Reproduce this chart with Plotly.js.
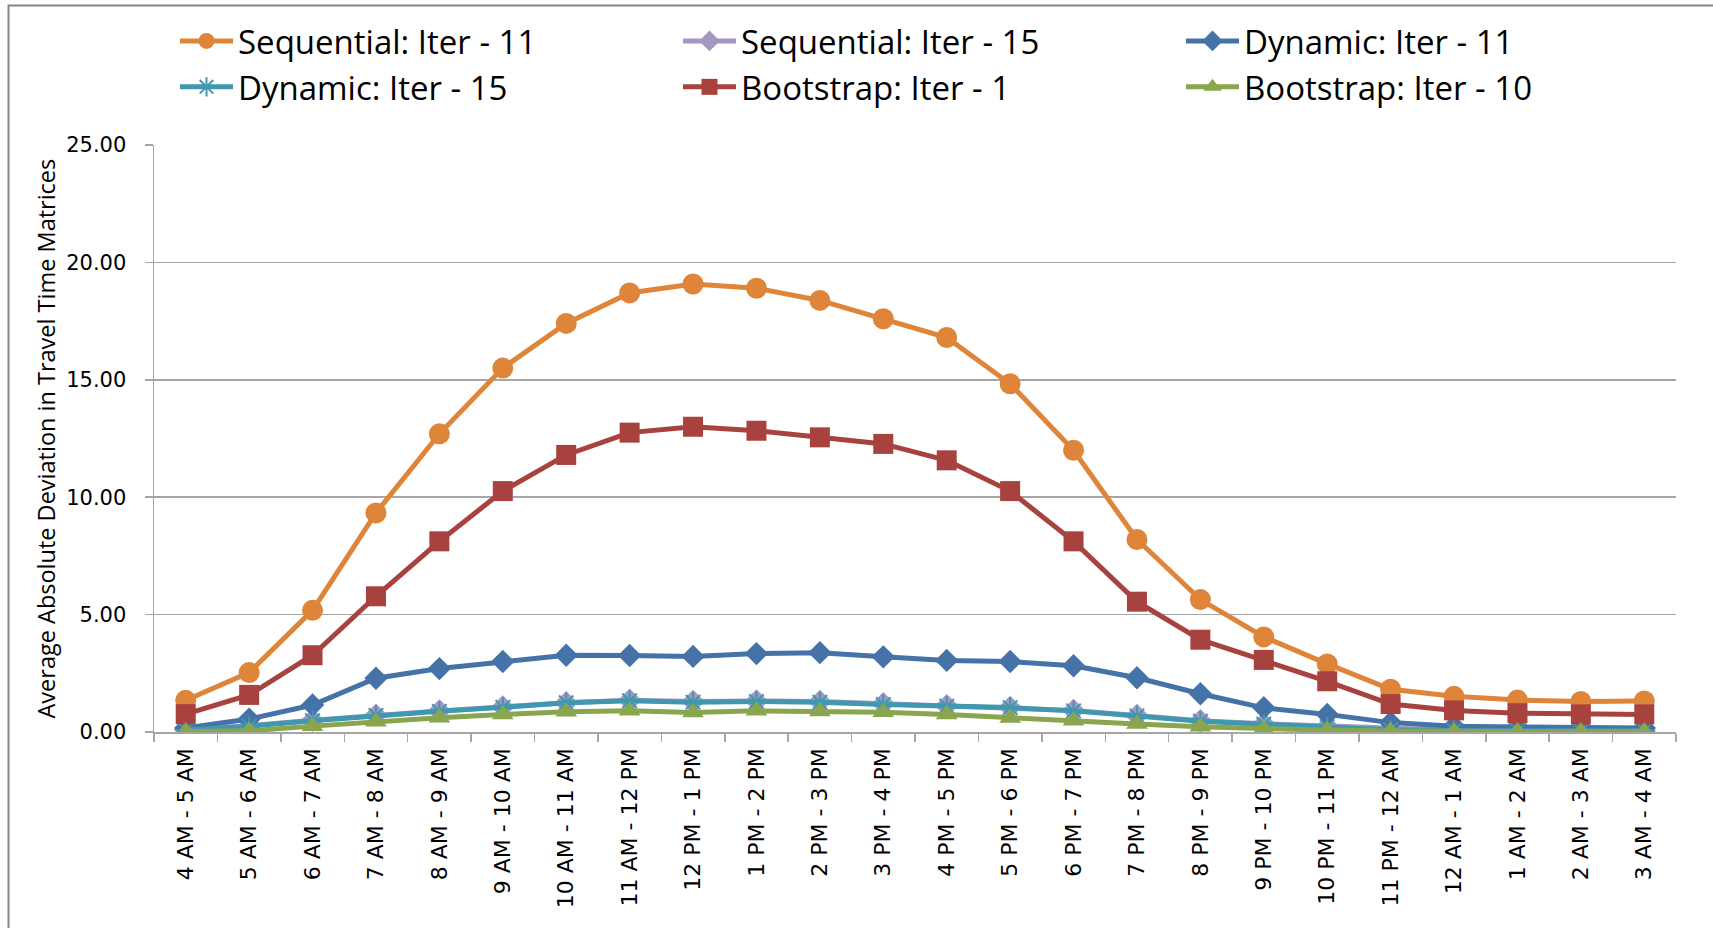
<!DOCTYPE html>
<html>
<head>
<meta charset="utf-8">
<script src="https://cdn.plot.ly/plotly-3.0.1.min.js"></script>
<style>
  html, body { margin: 0; padding: 0; background: #ffffff; }
  #chart { width: 1713px; height: 928px; }
</style>
</head>
<body>
<div id="chart"></div>
<script>
// Hourly periods of the day
const categories = [
  '4 AM - 5 AM', '5 AM - 6 AM', '6 AM - 7 AM', '7 AM - 8 AM', '8 AM - 9 AM',
  '9 AM - 10 AM', '10 AM - 11 AM', '11 AM - 12 PM', '12 PM - 1 PM', '1 PM - 2 PM',
  '2 PM - 3 PM', '3 PM - 4 PM', '4 PM - 5 PM', '5 PM - 6 PM', '6 PM - 7 PM',
  '7 PM - 8 PM', '8 PM - 9 PM', '9 PM - 10 PM', '10 PM - 11 PM', '11 PM - 12 AM',
  '12 AM - 1 AM', '1 AM - 2 AM', '2 AM - 3 AM', '3 AM - 4 AM'
];

// Average absolute deviation per period, one array per method / iteration
const sequentialIter11 = [1.35, 2.53, 5.18, 9.33, 12.70, 15.50, 17.40, 18.70, 19.08, 18.90, 18.38, 17.60,
                          16.80, 14.83, 12.00, 8.20, 5.64, 4.05, 2.90, 1.82, 1.52, 1.36, 1.30, 1.32];
const sequentialIter15 = [0.10, 0.27, 0.50, 0.72, 0.90, 1.07, 1.25, 1.35, 1.30, 1.32, 1.30, 1.20,
                          1.12, 1.05, 0.92, 0.70, 0.48, 0.35, 0.25, 0.12, 0.07, 0.06, 0.05, 0.05];
const dynamicIter11    = [0.17, 0.55, 1.15, 2.29, 2.70, 3.00, 3.27, 3.26, 3.22, 3.34, 3.38, 3.20,
                          3.05, 3.00, 2.82, 2.31, 1.63, 1.03, 0.75, 0.40, 0.24, 0.21, 0.20, 0.17];
const dynamicIter15    = [0.08, 0.25, 0.48, 0.70, 0.88, 1.05, 1.25, 1.33, 1.27, 1.30, 1.27, 1.17,
                          1.10, 1.04, 0.90, 0.68, 0.46, 0.33, 0.23, 0.10, 0.06, 0.05, 0.05, 0.05];
const bootstrapIter1   = [0.76, 1.58, 3.27, 5.78, 8.12, 10.26, 11.80, 12.75, 13.00, 12.83, 12.55, 12.27,
                          11.57, 10.26, 8.12, 5.55, 3.93, 3.07, 2.16, 1.19, 0.92, 0.80, 0.75, 0.75];
const bootstrapIter10  = [0.02, 0.05, 0.25, 0.44, 0.61, 0.75, 0.86, 0.91, 0.83, 0.90, 0.87, 0.84,
                          0.75, 0.60, 0.48, 0.34, 0.22, 0.14, 0.08, 0.04, 0.02, 0.02, 0.02, 0.02];

const seriesNames = [
  'Sequential: Iter - 11', 'Sequential: Iter - 15', 'Dynamic: Iter - 11',
  'Dynamic: Iter - 15', 'Bootstrap: Iter - 1', 'Bootstrap: Iter - 10'
];

function series(name, values, color, symbol, size, open) {
  return {
    type: 'scatter',
    mode: 'lines+markers',
    name: name,
    x: categories,
    y: values,
    line: { color: color, width: 5 },
    marker: open
      ? { symbol: symbol, size: size, color: color, line: { color: color, width: 2 } }
      : { symbol: symbol, size: size, color: color, line: { width: 0 } },
    hoverinfo: 'x+y+name'
  };
}

const traces = [
  series(seriesNames[0], sequentialIter11, '#DF8539', 'circle', 21, false),
  series(seriesNames[1], sequentialIter15, '#A596C4', 'diamond', 18, false),
  series(seriesNames[2], dynamicIter11, '#4572A7', 'diamond', 18, false),
  series(seriesNames[3], dynamicIter15, '#4098B0', 'asterisk-open', 17, true),
  series(seriesNames[4], bootstrapIter1, '#A8423F', 'square', 20, false),
  series(seriesNames[5], bootstrapIter10, '#89A54E', 'triangle-up', 19, false)
];

const gridGray = '#A6A6A6';
const tickFamily = 'DejaVu Sans, Verdana, sans-serif';
const textFamily = '"Open Sans", Lato, sans-serif';

const layout = {
  width: 1713,
  height: 928,
  paper_bgcolor: '#ffffff',
  plot_bgcolor: '#ffffff',
  margin: { l: 154, r: 37, t: 145, b: 196, pad: 0, autoexpand: false },
  showlegend: true,
  legend: {
    orientation: 'h',
    x: (175 - 154) / 1522,
    xanchor: 'left',
    y: (732 - 13) / 587,
    yanchor: 'top',
    entrywidth: 435,
    entrywidthmode: 'pixels',
    itemwidth: 53,
    traceorder: 'normal',
    font: { family: textFamily, size: 33, color: '#000000' },
    bgcolor: 'rgba(0,0,0,0)'
  },
  xaxis: {
    type: 'category',
    range: [-0.5, 23.5],
    showgrid: false,
    showline: true,
    linecolor: gridGray,
    linewidth: 1.5,
    ticks: 'outside',
    tickson: 'boundaries',
    ticklen: 8,
    tickcolor: gridGray,
    tickwidth: 1.5,
    tickangle: -90,
    tickfont: { family: tickFamily, size: 22, color: '#000000' },
    ticklabelstandoff: 6,
    automargin: false,
    fixedrange: true
  },
  yaxis: {
    range: [0, 25],
    dtick: 5,
    tick0: 0,
    tickformat: '.2f',
    showgrid: true,
    gridcolor: gridGray,
    gridwidth: 1.5,
    zeroline: false,
    showline: true,
    linecolor: gridGray,
    linewidth: 1.5,
    ticks: 'outside',
    ticklen: 8,
    tickcolor: gridGray,
    tickwidth: 1.5,
    tickfont: { family: tickFamily, size: 21, color: '#000000' },
    ticklabelstandoff: 14,
    automargin: false,
    fixedrange: true
  },
  annotations: [{
    text: 'Average Absolute Deviation in Travel Time Matrices',
    xref: 'paper', yref: 'paper',
    x: (45 - 154) / 1522, y: 0.5,
    xanchor: 'center', yanchor: 'middle',
    textangle: -90,
    showarrow: false,
    font: { family: textFamily, size: 23.5, color: '#000000' }
  }],
  shapes: [{
    type: 'rect',
    xref: 'paper', yref: 'paper',
    x0: (8.5 - 154) / 1522, x1: 1.05,
    y0: -0.4, y1: (732 - 5.5) / 587,
    line: { color: '#868686', width: 2 },
    fillcolor: 'rgba(0,0,0,0)',
    layer: 'below'
  }]
};

Plotly.newPlot('chart', traces, layout, { displayModeBar: false, staticPlot: true });
</script>
</body>
</html>
